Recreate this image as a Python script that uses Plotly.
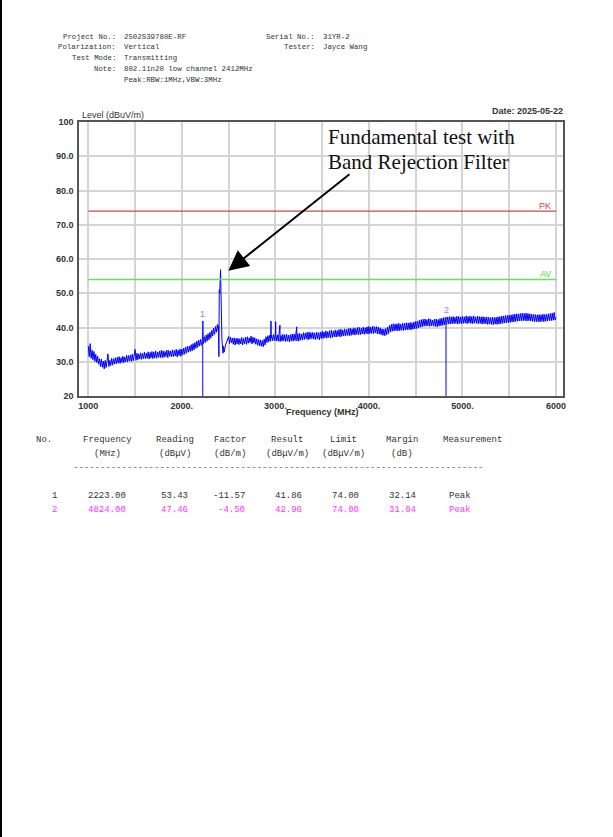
import numpy as np
import plotly.graph_objects as go

# ---- header info ----
header_left = [("Project No.:", "2502S39780E-RF"),
               ("Polarization:", "Vertical"),
               ("Test Mode:", "Transmitting"),
               ("Note:", "802.11n20 low channel 2412MHz"),
               ("", "Peak:RBW:1MHz,VBW:3MHz")]
header_right = [("Serial No.:", "31YR-2"),
                ("Tester:", "Jayce Wang")]
test_date = "Date: 2025-05-22"

# ---- sweep trace (10 MHz grid, 1000..6000 MHz), one row per 100 MHz ----
sweep_start, sweep_step = 1000, 10
sweep_level = [
    34.6, 31.5, 35.3, 31.0, 33.4, 30.6, 33.0, 30.1, 32.2, 29.8,  # 1000
    31.6, 29.3, 30.9, 28.6, 30.8, 28.4, 30.2, 27.9, 30.4, 28.3,  # 1100
    30.1, 32.3, 28.6, 30.4, 28.9, 31.0, 29.0, 30.9, 29.3, 31.2,  # 1200
    29.4, 31.3, 29.6, 31.5, 29.5, 31.2, 29.8, 31.6, 29.7, 31.4,  # 1300
    30.0, 31.9, 29.9, 31.8, 30.2, 32.0, 30.1, 32.2, 30.3, 31.9,  # 1400
    33.6, 30.4, 32.5, 30.6, 32.3, 30.8, 32.6, 30.7, 32.4, 30.9,  # 1500
    32.8, 30.9, 32.5, 31.0, 32.9, 30.8, 32.7, 31.1, 33.0, 30.9,  # 1600
    32.9, 31.1, 33.2, 31.0, 32.8, 31.3, 33.1, 31.2, 33.3, 31.2,  # 1700
    33.2, 31.3, 33.0, 31.5, 33.4, 31.2, 33.3, 31.6, 33.1, 31.4,  # 1800
    33.5, 31.5, 33.3, 31.7, 33.6, 31.4, 33.4, 31.8, 33.7, 31.6,  # 1900
    33.7, 32.0, 34.0, 32.2, 34.3, 32.5, 34.5, 32.8, 34.6, 33.0,  # 2000
    35.0, 33.2, 35.3, 33.5, 35.6, 33.9, 36.0, 34.2, 36.3, 34.6,  # 2100
    36.5, 34.8, 36.9, 35.2, 37.3, 35.6, 37.8, 36.0, 38.2, 36.4,  # 2200
    38.6, 36.9, 39.2, 37.5, 39.8, 38.0, 40.3, 38.6, 40.9, 39.0,  # 2300
    51.0, 54.0, 45.0, 36.0, 32.5, 33.5, 34.0, 35.2, 35.8, 36.6,  # 2400
    37.4, 35.3, 37.2, 35.6, 36.9, 35.1, 37.0, 34.9, 36.8, 35.2,  # 2500
    36.9, 35.0, 36.7, 35.2, 37.1, 34.9, 36.8, 35.3, 37.2, 35.1,  # 2600
    37.3, 35.4, 37.0, 35.6, 37.5, 35.2, 37.2, 35.5, 37.0, 35.1,  # 2700
    36.7, 34.8, 36.5, 34.6, 36.4, 34.5, 36.2, 34.4, 36.6, 34.9,  # 2800
    37.3, 35.6, 37.6, 35.8, 37.8, 36.0, 37.7, 36.1, 38.0, 36.2,  # 2900
    38.0, 36.1, 37.8, 36.0, 37.9, 35.9, 37.7, 36.0, 38.0, 36.1,  # 3000
    37.9, 35.9, 38.0, 36.0, 37.8, 35.8, 37.9, 36.1, 38.1, 36.0,  # 3100
    38.1, 36.2, 37.9, 36.1, 38.2, 36.0, 38.3, 36.3, 38.1, 36.4,  # 3200
    38.5, 36.5, 38.4, 36.7, 38.6, 36.4, 38.7, 36.6, 38.5, 36.8,  # 3300
    38.6, 36.6, 38.4, 36.5, 38.7, 36.7, 38.5, 36.4, 38.6, 36.8,  # 3400
    38.9, 36.8, 38.7, 37.0, 39.0, 36.9, 38.8, 37.1, 39.1, 36.9,  # 3500
    39.2, 37.1, 39.0, 37.3, 39.3, 37.2, 39.1, 37.4, 39.4, 37.3,  # 3600
    39.5, 37.4, 39.3, 37.6, 39.6, 37.5, 39.4, 37.7, 39.7, 37.6,  # 3700
    39.8, 37.7, 39.6, 37.9, 39.9, 37.8, 39.7, 38.0, 40.0, 37.9,  # 3800
    40.0, 37.9, 39.8, 38.1, 40.1, 38.0, 39.9, 38.2, 40.2, 38.1,  # 3900
    40.3, 38.2, 40.1, 38.3, 40.4, 38.2, 40.2, 38.4, 40.3, 38.1,  # 4000
    40.1, 38.1, 39.9, 37.9, 39.6, 37.7, 39.5, 37.6, 39.7, 37.9,  # 4100
    40.1, 38.2, 40.6, 38.7, 40.9, 38.9, 41.1, 39.0, 41.0, 39.1,  # 4200
    41.1, 39.0, 41.2, 39.1, 41.0, 39.2, 41.3, 39.1, 41.2, 39.3,  # 4300
    41.4, 39.3, 41.3, 39.4, 41.5, 39.3, 41.4, 39.5, 41.6, 39.6,  # 4400
    41.8, 39.7, 41.9, 39.9, 42.1, 40.1, 42.3, 40.2, 42.4, 40.4,  # 4500
    42.5, 40.4, 42.3, 40.5, 42.6, 40.3, 42.4, 40.5, 42.2, 40.4,  # 4600
    42.4, 40.3, 42.5, 40.2, 42.3, 40.4, 42.6, 40.5, 42.7, 40.6,  # 4700
    42.9, 40.8, 43.0, 40.9, 43.1, 41.0, 43.2, 41.0, 43.1, 41.1,  # 4800
    43.2, 41.1, 43.0, 41.2, 43.3, 41.0, 43.2, 41.2, 43.1, 41.1,  # 4900
    43.3, 41.2, 43.1, 41.3, 43.4, 41.1, 43.2, 41.3, 43.3, 41.2,  # 5000
    43.2, 41.1, 43.4, 41.3, 43.1, 41.2, 43.3, 41.1, 43.2, 41.2,  # 5100
    43.1, 41.0, 43.2, 41.1, 43.0, 41.1, 43.1, 40.9, 43.0, 41.0,  # 5200
    42.9, 40.9, 43.0, 40.8, 42.9, 41.0, 43.0, 40.9, 43.1, 41.0,  # 5300
    43.2, 41.1, 43.3, 41.2, 43.4, 41.3, 43.5, 41.3, 43.5, 41.4,  # 5400
    43.6, 41.5, 43.7, 41.6, 43.8, 41.6, 43.9, 41.8, 44.0, 41.8,  # 5500
    44.0, 41.9, 44.1, 41.9, 44.2, 42.0, 44.1, 42.0, 44.2, 41.9,  # 5600
    44.1, 42.0, 44.0, 41.9, 43.9, 41.8, 43.8, 41.7, 43.8, 41.7,  # 5700
    43.7, 41.7, 43.8, 41.6, 43.7, 41.8, 43.9, 41.7, 43.8, 41.8,  # 5800
    43.9, 41.9, 44.0, 42.0, 44.1, 42.0, 44.2, 42.1, 44.4, 42.2,  # 5900
    43.0,                                                        # 6000
]

# narrow spurs and the filtered fundamental around 2412 MHz
spur_freq = [2223, 2226, 2392, 2396, 2402, 2405, 2408, 2414, 2417, 2424,
             2428, 2432, 2436, 2446, 2452, 2466, 2953, 2956, 3003, 3006, 3049,
             3052, 3228, 3231]
spur_level = [41.9, 35.5, 40.5, 31.5, 53.5, 50.0, 54.0, 56.9, 48.0, 42.0,
              37.0, 34.0, 33.0, 34.5, 32.8, 35.0, 41.9, 37.0, 41.7, 36.5, 40.7,
              37.2, 40.2, 37.0]

# limits
pk_limit = 74.0
av_limit = 54.0

# ---- marker table ----
mk_no = [1, 2]
mk_freq = [2223.00, 4824.00]
mk_reading = [53.43, 47.46]
mk_factor = [-11.57, -4.50]
mk_result = [41.86, 42.96]
mk_limit = [74.00, 74.00]
mk_margin = [32.14, 31.04]
mk_meas = ["Peak", "Peak"]
row_colors = ["#333333", "#ff33ff"]

col_head = ["No.", "Frequency", "Reading", "Factor", "Result", "Limit", "Margin", "Measurement"]
col_unit = ["", "(MHz)", "(dB\u03bcV)", "(dB/m)", "(dB\u03bcV/m)", "(dB\u03bcV/m)", "(dB)", ""]

x_ticks = [1000, 1500, 2000, 2500, 3000, 3500, 4000, 4500, 5000, 5500, 6000]
x_ticktext = ["1000", "", "2000.", "", "3000.", "", "4000.", "", "5000.", "", "6000"]
y_ticks = [20, 30, 40, 50, 60, 70, 80, 90, 100]
y_ticktext = ["20", "30.0", "40.0", "50.0", "60.0", "70.0", "80.0", "90.0", "100"]

# ---- assemble trace ----
sweep_freq = sweep_start + sweep_step * np.arange(len(sweep_level))
freq = np.concatenate([sweep_freq, spur_freq])
level = np.concatenate([sweep_level, spur_level])
order = np.argsort(freq, kind="stable")
freq, level = freq[order], level[order]

# plot area in pixels
W_FIG, H_FIG = 613, 837
L, R, T, B = 79, 563, 122, 396


def px(x):
    return (x - L) / (R - L)


def py(y):
    return (B - y) / (B - T)


fig = go.Figure()

fig.add_trace(go.Scatter(x=freq, y=level, mode="lines",
                         line=dict(color="#0000ff", width=1), hoverinfo="skip"))
fig.add_trace(go.Scatter(x=[1000, 6000], y=[pk_limit, pk_limit], mode="lines",
                         line=dict(color="#c84848", width=1.2)))
fig.add_trace(go.Scatter(x=[1000, 6000], y=[av_limit, av_limit], mode="lines",
                         line=dict(color="#66e066", width=1.5)))
for f, r in zip(mk_freq, mk_result):
    fig.add_trace(go.Scatter(x=[f, f], y=[20, r], mode="lines",
                             line=dict(color="#2a2aff", width=1.2)))

ann = []
mono = "Liberation Mono"
sans = "Liberation Sans"

# header block
hdr_y = [36.7, 47.3, 58.3, 69.3, 80.0]
for (lab, val), yy in zip(header_left, hdr_y):
    if lab:
        ann.append(dict(x=px(117.5), y=py(yy), text=lab, xanchor="right"))
    ann.append(dict(x=px(121.5), y=py(yy), text=val, xanchor="left"))
for (lab, val), yy in zip(header_right, hdr_y):
    ann.append(dict(x=px(317), y=py(yy), text=lab, xanchor="right"))
    ann.append(dict(x=px(321), y=py(yy), text=val, xanchor="left"))
for a in ann:
    a.update(xref="paper", yref="paper", yanchor="middle", showarrow=False,
             font=dict(family=mono, size=7.4, color="#333333"))

# chart labels
ann.append(dict(x=px(79.5), y=py(115), xref="paper", yref="paper", text="Level (dBuV/m)",
                xanchor="left", yanchor="middle", showarrow=False,
                font=dict(family=sans, size=9, color="#333333")))
ann.append(dict(x=px(565), y=py(111), xref="paper", yref="paper", text=test_date,
                xanchor="right", yanchor="middle", showarrow=False,
                font=dict(family=sans, size=9, color="#333333", weight="bold")))
ann.append(dict(x=px(322), y=py(412), xref="paper", yref="paper", text="Frequency (MHz)",
                xanchor="center", yanchor="middle", showarrow=False,
                font=dict(family=sans, size=9, color="#333333", weight="bold")))
ann.append(dict(x=px(553), y=py(206), xref="paper", yref="paper", text="PK",
                xanchor="right", yanchor="middle", showarrow=False,
                font=dict(family=sans, size=9, color="#e23c3c")))
ann.append(dict(x=px(553), y=py(274), xref="paper", yref="paper", text="AV",
                xanchor="right", yanchor="middle", showarrow=False,
                font=dict(family=sans, size=9, color="#44dd44")))
for n, f, r in zip(mk_no, mk_freq, mk_result):
    ann.append(dict(x=f, y=r, xref="x", yref="y", text=str(n), yshift=7,
                    xanchor="center", yanchor="middle", showarrow=False,
                    font=dict(family=sans, size=9, color="#8c7cff")))

# callout
ann.append(dict(x=px(326), y=py(137), xref="paper", yref="paper", text="Fundamental test with",
                xanchor="left", yanchor="middle", showarrow=False,
                font=dict(family="Liberation Serif", size=21, color="#111111")))
ann.append(dict(x=px(326), y=py(162), xref="paper", yref="paper", text="Band Rejection Filter",
                xanchor="left", yanchor="middle", showarrow=False,
                font=dict(family="Liberation Serif", size=21, color="#111111")))
ann.append(dict(x=2497, y=56.6, xref="x", yref="y", ax=3808, ay=85.1, axref="x", ayref="y",
                text="", showarrow=True, arrowhead=2, arrowsize=2, arrowwidth=2,
                arrowcolor="#000000"))

# table
head_cx = [44, 107.5, 175, 230, 287, 343, 402, 472.5]
val_rx = [58.7, 127.7, 190, 246.7, 304, 360.7, 418.3]
tfont = dict(family=mono, size=9, color="#333333")
for h, u, cx in zip(col_head, col_unit, head_cx):
    ann.append(dict(x=px(cx), y=py(440), text=h, xanchor="center", font=tfont))
    if u:
        ann.append(dict(x=px(cx), y=py(454), text=u, xanchor="center", font=tfont))
ann.append(dict(x=px(71), y=py(468), text="-" * 76, xanchor="left",
                font=dict(family=mono, size=9, color="#666666")))
row_y = [496, 510]
for i in range(len(mk_no)):
    cells = [str(mk_no[i]), f"{mk_freq[i]:.2f}", f"{mk_reading[i]:.2f}", f"{mk_factor[i]:.2f}",
             f"{mk_result[i]:.2f}", f"{mk_limit[i]:.2f}", f"{mk_margin[i]:.2f}"]
    rf = dict(family=mono, size=9, color=row_colors[i])
    for c, rx in zip(cells, val_rx):
        ann.append(dict(x=px(rx), y=py(row_y[i]), text=c, xanchor="right", font=rf))
    ann.append(dict(x=px(447.3), y=py(row_y[i]), text=mk_meas[i], xanchor="left", font=rf))
for a in ann:
    a.setdefault("xref", "paper")
    a.setdefault("yref", "paper")
    a.setdefault("yanchor", "middle")
    a.setdefault("showarrow", False)

fig.update_layout(
    width=W_FIG, height=H_FIG,
    margin=dict(l=L, r=W_FIG - R, t=T, b=H_FIG - B),
    paper_bgcolor="white", plot_bgcolor="white",
    showlegend=False,
    annotations=ann,
    shapes=[dict(type="line", xref="paper", yref="paper", x0=px(1), x1=px(1),
                 y0=py(0), y1=py(837), line=dict(color="#000000", width=2))],
)
fig.update_xaxes(range=[900.6, 6074.8], tickvals=x_ticks, ticktext=x_ticktext,
                 showgrid=True, gridcolor="#d4d4d4", gridwidth=1.5, zeroline=False,
                 showline=True, linecolor="#555555", linewidth=1.5, mirror=True,
                 ticks="", tickfont=dict(family=sans, size=9, color="#333333", weight="bold"))
fig.update_yaxes(range=[20, 100], tickvals=y_ticks, ticktext=y_ticktext,
                 showgrid=True, gridcolor="#d4d4d4", gridwidth=1.5, zeroline=False,
                 showline=True, linecolor="#555555", linewidth=1.5, mirror=True,
                 ticks="", ticklabelstandoff=2,
                 tickfont=dict(family=sans, size=9, color="#333333", weight="bold"))

fig.write_html("out.html", config={"displayModeBar": False},
               post_script="document.body.style.margin='0';")
